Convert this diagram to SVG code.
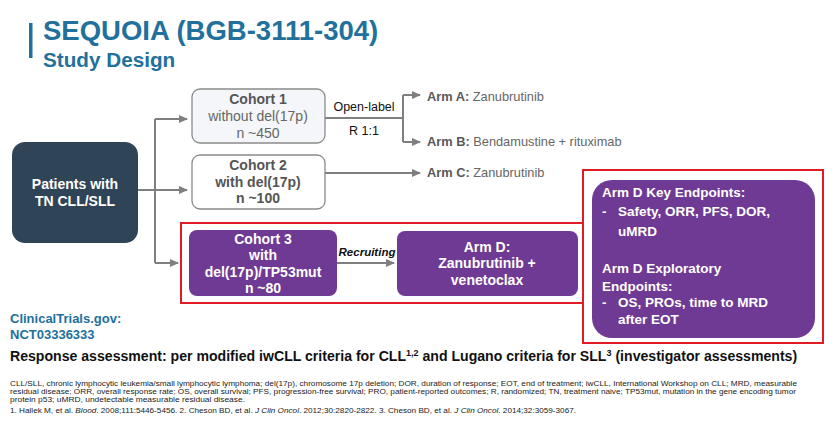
<svg xmlns="http://www.w3.org/2000/svg" width="832" height="430" viewBox="0 0 832 430">
<defs>
<marker id="arr" markerUnits="userSpaceOnUse" markerWidth="9" markerHeight="8" refX="8" refY="4" orient="auto">
<path d="M0,0 L9,4 L0,8 z" fill="#7f7f7f"/>
</marker>
<style>
text{font-family:"Liberation Sans",Arial,sans-serif}
.conn{stroke:#7f7f7f;stroke-width:2;fill:none}
.b{font-weight:bold}
.wt{fill:#ffffff;font-weight:bold;font-size:14px;text-anchor:middle}
.ct{font-size:14px;text-anchor:middle}
.purple{fill:#6e3a94}
.red{fill:none;stroke:#e01b24;stroke-width:2}
.arm{font-size:12.8px;fill:#666}
.armb{font-weight:bold;fill:#595959}
.ep{fill:#ffffff;font-weight:bold;font-size:13.5px}
.fn{font-size:8px;fill:#222}
</style>
</defs>
<rect width="832" height="430" fill="#ffffff"/>

<g id="title">
<rect x="29" y="23" width="3.5" height="35" fill="#22709c"/>
<text x="43" y="40" font-size="27.5" class="b" fill="#22709c">SEQUOIA (BGB-3111-304)</text>
<text x="43" y="67" font-size="20.7" class="b" fill="#22709c">Study Design</text>
</g>

<g id="connectors">
<path class="conn" d="M138,190 H187" marker-end="url(#arr)"/>
<path class="conn" d="M155,119 V263"/>
<path class="conn" d="M155,119 H187" marker-end="url(#arr)"/>
<path class="conn" d="M155,263 H178" marker-end="url(#arr)"/>
<path class="conn" d="M325,118 H403"/>
<path class="conn" d="M403,95 V142"/>
<path class="conn" d="M403,95 H420" marker-end="url(#arr)"/>
<path class="conn" d="M403,142 H420" marker-end="url(#arr)"/>
<path class="conn" d="M325,173 H420" marker-end="url(#arr)"/>
<path class="conn" d="M337,263 H394" marker-end="url(#arr)"/>
<text x="364" y="111" font-size="12.5" text-anchor="middle" fill="#111">Open-label</text>
<text x="364" y="135" font-size="12.5" text-anchor="middle" fill="#111">R 1:1</text>
<text x="367" y="256" font-size="11.5" text-anchor="middle" font-weight="bold" font-style="italic" fill="#111">Recruiting</text>
</g>

<g id="patients">
<rect x="12" y="142" width="126" height="101" rx="13" fill="#304458"/>
<text x="75" y="189" class="wt">Patients with</text>
<text x="75" y="206" class="wt">TN CLL/SLL</text>
</g>

<g id="cohort1">
<rect x="192" y="89" width="133" height="54" rx="8" fill="#f4f6f9" stroke="#8a8a8a" stroke-width="1.3"/>
<text x="258" y="104" class="ct b" fill="#555">Cohort 1</text>
<text x="258" y="121" class="ct" fill="#666">without del(17p)</text>
<text x="258" y="138" class="ct" fill="#666">n ~450</text>
</g>

<g id="cohort2">
<rect x="192" y="155" width="133" height="54" rx="8" fill="#ffffff" stroke="#8a8a8a" stroke-width="1.3"/>
<text x="258" y="170" class="ct b" fill="#555">Cohort 2</text>
<text x="258" y="187" class="ct b" fill="#555">with del(17p)</text>
<text x="258" y="203" class="ct b" fill="#555">n ~100</text>
</g>

<g id="armA">
<text x="427" y="101" class="arm"><tspan class="armb">Arm A:</tspan> Zanubrutinib</text>
</g>
<g id="armB">
<text x="427" y="146" class="arm"><tspan class="armb">Arm B:</tspan> Bendamustine + rituximab</text>
</g>
<g id="armC">
<text x="427" y="177" class="arm"><tspan class="armb">Arm C:</tspan> Zanubrutinib</text>
</g>

<g id="highlight1">
<rect x="181" y="223" width="402" height="80" class="red"/>
</g>

<g id="cohort3">
<rect x="189" y="230" width="148" height="66" rx="8" class="purple"/>
<text x="263" y="244" class="wt">Cohort 3</text>
<text x="263" y="260" class="wt">with</text>
<text x="263" y="277" class="wt">del(17p)/TP53mut</text>
<text x="263" y="293" class="wt">n ~80</text>
</g>

<g id="armD">
<rect x="397" y="231" width="181" height="65" rx="8" class="purple"/>
<text x="487" y="252" class="wt">Arm D:</text>
<text x="487" y="268" class="wt">Zanubrutinib +</text>
<text x="487" y="285" class="wt">venetoclax</text>
</g>

<g id="endpoints">
<rect x="583" y="170" width="240" height="173" class="red"/>
<rect x="592" y="180" width="223" height="158" rx="20" class="purple"/>
<text x="602" y="197" class="ep">Arm D Key Endpoints:</text>
<text x="602" y="216" class="ep">-</text>
<text x="618" y="216" class="ep">Safety, ORR, PFS, DOR,</text>
<text x="618" y="236" class="ep">uMRD</text>
<text x="602" y="273" class="ep">Arm D Exploratory</text>
<text x="602" y="291" class="ep">Endpoints:</text>
<text x="602" y="307" class="ep">-</text>
<text x="618" y="307" class="ep">OS, PROs, time to MRD</text>
<text x="618" y="324" class="ep">after EOT</text>
</g>

<g id="notes">
<text x="10" y="323" font-size="13" class="b" fill="#22709c">ClinicalTrials.gov:</text>
<text x="10" y="339" font-size="13" class="b" fill="#22709c">NCT03336333</text>
<text x="10" y="361" font-size="14.1" class="b" fill="#111">Response assessment: per modified iwCLL criteria for CLL<tspan font-size="9" dy="-5">1,2</tspan><tspan dy="5"> and Lugano criteria for SLL</tspan><tspan font-size="9" dy="-5">3</tspan><tspan dy="5"> (investigator assessments)</tspan></text>
<text x="10" y="386" class="fn" textLength="787" lengthAdjust="spacingAndGlyphs">CLL/SLL, chronic lymphocytic leukemia/small lymphocytic lymphoma; del(17p), chromosome 17p deletion; DOR, duration of response; EOT, end of treatment; iwCLL, International Workshop on CLL; MRD, measurable</text>
<text x="10" y="394" class="fn" textLength="786" lengthAdjust="spacingAndGlyphs">residual disease; ORR, overall response rate; OS, overall survival; PFS, progression-free survival; PRO, patient-reported outcomes; R, randomized; TN, treatment naive; TP53mut, mutation in the gene encoding tumor</text>
<text x="10" y="402" class="fn" textLength="235" lengthAdjust="spacingAndGlyphs">protein p53; uMRD, undetectable measurable residual disease.</text>
<text x="10" y="413" class="fn" textLength="566" lengthAdjust="spacingAndGlyphs">1. Hallek M, et al. <tspan font-style="italic">Blood</tspan>. 2008;111:5446-5456. 2. Cheson BD, et al. <tspan font-style="italic">J Clin Oncol</tspan>. 2012;30:2820-2822. 3. Cheson BD, et al. <tspan font-style="italic">J Clin Oncol</tspan>. 2014;32:3059-3067.</text>
</g>
</svg>
